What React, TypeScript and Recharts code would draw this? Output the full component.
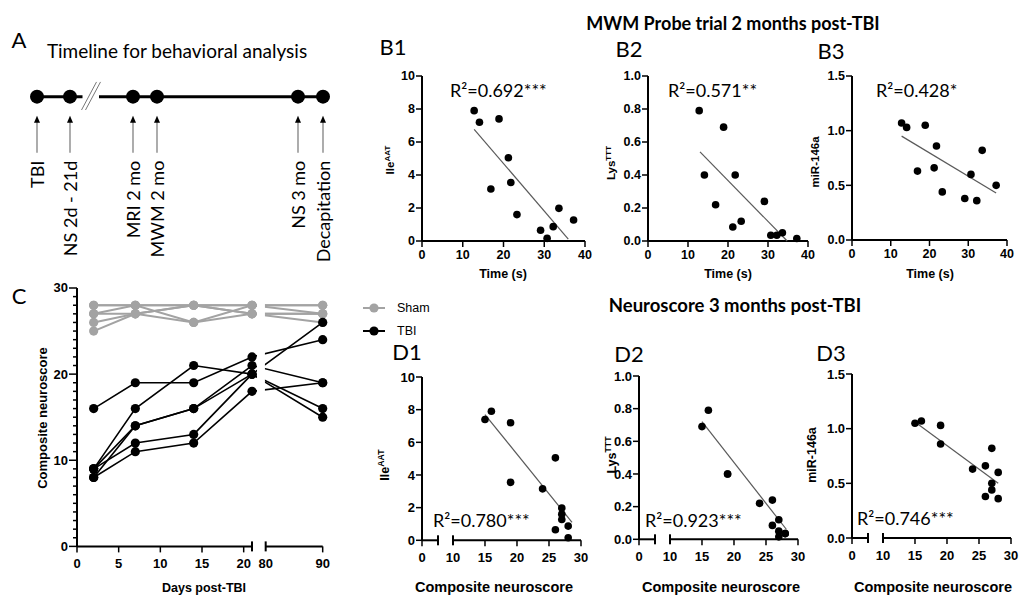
import React from "react";
import {
  LineChart,
  Line,
  ScatterChart,
  Scatter,
  XAxis,
  YAxis,
  ReferenceArea,
  ReferenceLine,
} from "recharts";

const SANS = '"Liberation Sans", Arial, Helvetica, sans-serif';
const CAL = 'Lato, "Open Sans", sans-serif';
const GRAY = "#a3a3a3";

// --- A: timeline
const timelineEvents = ["TBI", "NS 2d - 21d", "MRI 2 mo", "MWM 2 mo", "NS 3 mo", "Decapitation"];
const timelinePos = [37, 70, 133, 157, 298, 323];

// --- C: composite neuroscore per animal (days 2, 7, 14, 21, 90)
const days = [2, 7, 14, 21, 90];
const shamScores = [
  [28, 28, 28, 28, 28],
  [27, 27, 28, 27, 27],
  [27, 28, 26, 27, 26],
  [26, 27, 26, 28, 27],
  [25, 27, 28, 27, 27],
  [28, 28, 28, 28, 28],
];
const tbiScores = [
  [16, 19, 19, 22, 24],
  [9, 16, 21, 20, 26],
  [9, 14, 16, 21, 19],
  [8, 14, 16, 20, 16],
  [9, 12, 13, 20, 15],
  [8, 11, 12, 18, 19],
];
const cXTickDays = [0, 5, 10, 15, 20, 21, 80, 90];
const cCapDays = [21, 80];

// --- B / D: one value per animal
const probeTime = [12.8, 14.1, 16.9, 18.9, 21.2, 21.8, 23.3, 29.1, 30.7, 32.2, 33.6, 37.2];
const neuroscore3mo = [16, 19, 24, 15, 26, 19, 27, 26, 28, 28, 27, 27];
const ileAAT = [7.9, 7.2, 3.15, 7.4, 5.05, 3.55, 1.6, 0.65, 0.16, 0.87, 1.98, 1.27];
const lysTTT = [0.79, 0.4, 0.22, 0.69, 0.085, 0.4, 0.12, 0.24, 0.035, 0.035, 0.05, 0.015];
const mir146a = [1.07, 1.03, 0.63, 1.05, 0.66, 0.86, 0.44, 0.38, 0.6, 0.36, 0.82, 0.5];

// regression lines, end points
const fitB1 = [{ x: 12.8, y: 6.77 }, { x: 35.9, y: 0.12 }];
const fitB2 = [{ x: 13, y: 0.54 }, { x: 34.8, y: 0 }];
const fitB3 = [{ x: 12.8, y: 0.95 }, { x: 37.2, y: 0.43 }];
const fitD1 = [{ x: 15, y: 7.7 }, { x: 28.6, y: 1.1 }];
const fitD2 = [{ x: 15, y: 0.72 }, { x: 28.2, y: 0.06 }];
const fitD3 = [{ x: 15, y: 1.06 }, { x: 28, y: 0.5 }];

// broken axis in C: days 80-90 squeezed after day 21
const dayPos = (d: number) => (d <= 21 ? d : 22.64 + (d - 80) * 0.684);

// broken axis in D: "0" stub then 10..30
const D_LO = 5.16;
const D_CAP = 7.66;

function XTick(props: any) {
  const { x, y, payload, caps, fmt, fs, ly } = props;
  const v = payload.value as number;
  const isCap = caps.some((c: number) => Math.abs(c - v) < 1e-6);
  const label = fmt(v);
  return (
    <g>
      {isCap ? (
        <line x1={x} x2={x} y1={y - 5} y2={y + 5} stroke="#000" strokeWidth={2} />
      ) : (
        <line x1={x} x2={x} y1={y} y2={y + 6} stroke="#000" strokeWidth={1.5} />
      )}
      {label !== "" && (
        <text x={x} y={y + ly} textAnchor="middle" dominantBaseline="central" fill="#000"
          fontSize={fs} fontWeight={700} fontFamily={SANS}>{label}</text>
      )}
    </g>
  );
}

function Txt({ x, y, children, size, bold = false, family = CAL, start = false, rotate = 0 }: any) {
  return (
    <div
      style={{
        position: "absolute", left: x, top: y, whiteSpace: "nowrap", lineHeight: 1,
        fontSize: size, fontWeight: bold ? 700 : 400, fontFamily: family, color: "#000",
        transform: `translate(${start ? "0" : "-50%"}, -50%) rotate(${rotate}deg)`,
      }}
    >
      {children}
    </div>
  );
}

function Dot(p: any) {
  return <circle cx={p.cx} cy={p.cy} r={3.8} fill="#000" />;
}

function ScatterPanel(props: any) {
  const { px, py, pw, ph, xs, ys, fit, xDomain, xTicks, xFmt, caps, broken, yDomain, yTicks, yFmt, fs, ly } = props;
  const data = xs.map((x: number, i: number) => ({ x, y: ys[i] }));
  return (
    <div style={{ position: "absolute", left: px - 50, top: py - 10 }}>
      <ScatterChart width={pw + 60} height={ph + 40} margin={{ top: 10, right: 10, bottom: 0, left: 0 }}>
        <XAxis
          type="number" dataKey="x" domain={xDomain} ticks={xTicks} interval={0} height={30}
          axisLine={broken ? false : { stroke: "#000", strokeWidth: 2 }}
          tickLine={false} tickSize={0} tickMargin={0}
          tick={(t: any) => <XTick {...t} caps={caps} fmt={xFmt} fs={fs} ly={ly} />}
        />
        <YAxis
          type="number" dataKey="y" domain={yDomain} ticks={yTicks} interval={0} width={50}
          axisLine={{ stroke: "#000", strokeWidth: 2 }}
          tickLine={{ stroke: "#000", strokeWidth: 1.5 }} tickSize={6} tickMargin={1}
          tickFormatter={yFmt}
          tick={{ fill: "#000", fontSize: fs, fontWeight: 700, fontFamily: SANS }}
        />
        {broken && (
          <ReferenceLine segment={[{ x: xDomain[0], y: yDomain[0] }, { x: D_CAP, y: yDomain[0] }]}
            stroke="#000" strokeWidth={2} ifOverflow="visible" />
        )}
        {broken && (
          <ReferenceLine segment={[{ x: 10, y: yDomain[0] }, { x: xDomain[1], y: yDomain[0] }]}
            stroke="#000" strokeWidth={2} ifOverflow="visible" />
        )}
        <Scatter data={fit} line={{ stroke: "#5a5a5a", strokeWidth: 1.2 }} shape={() => <g />}
          isAnimationActive={false} />
        <Scatter data={data} shape={Dot} isAnimationActive={false} />
      </ScatterChart>
    </div>
  );
}

function TimelineDot(p: any) {
  const { cx, cy, payload } = p;
  if (cx == null || cy == null) return <g />;
  const ty = cy + 64;
  return (
    <g>
      <circle cx={cx} cy={cy} r={7} fill="#000" />
      <line x1={cx} x2={cx} y1={cy + 24} y2={cy + 56} stroke="#808080" strokeWidth={1.3} />
      <path d={`M${cx},${cy + 19} L${cx - 3},${cy + 26} L${cx + 3},${cy + 26} Z`} fill="#000" />
      <text x={cx} y={ty} transform={`rotate(-90 ${cx} ${ty})`} textAnchor="end" dominantBaseline="central"
        fontSize={18} fontFamily={CAL} fill="#000">{payload.label}</text>
    </g>
  );
}

function Timeline() {
  const data = timelineEvents.map((label, i) => ({ pos: timelinePos[i], on: 1, label }));
  return (
    <div style={{ position: "absolute", left: 0, top: 0 }}>
      <LineChart width={360} height={270} data={data} margin={{ top: 62, right: 0, bottom: 0, left: 0 }}>
        <XAxis type="number" dataKey="pos" domain={[0, 360]} hide />
        <YAxis type="number" domain={[0, 1.2]} hide />
        <Line dataKey="on" stroke="#000" strokeWidth={3} dot={TimelineDot} isAnimationActive={false} />
        <ReferenceArea x1={82.5} x2={99} y1={0.98} y2={1.02} fill="#fff" fillOpacity={1} stroke="none"
          ifOverflow="visible" zIndex={1500} />
        <ReferenceLine segment={[{ x: 81.5, y: 0.923 }, { x: 96.5, y: 1.085 }]} stroke="#777" strokeWidth={1}
          ifOverflow="visible" zIndex={1600} />
        <ReferenceLine segment={[{ x: 85.5, y: 0.923 }, { x: 100.5, y: 1.085 }]} stroke="#777" strokeWidth={1}
          ifOverflow="visible" zIndex={1600} />
      </LineChart>
    </div>
  );
}

function CYTick(p: any) {
  const { x, y, payload } = p;
  const v = payload.value as number;
  const major = v % 10 === 0;
  return (
    <g>
      <line x1={x - (major ? 8 : 4)} x2={x} y1={y} y2={y} stroke="#000" strokeWidth={1.5} />
      {major && (
        <text x={x - 9} y={y} textAnchor="end" dominantBaseline="central" fill="#000" fontSize={13}
          fontWeight={700} fontFamily={SANS}>{v}</text>
      )}
    </g>
  );
}

function NeuroscoreTime() {
  const rows = days.map((d, i) => {
    const row: any = { pos: dayPos(d) };
    shamScores.forEach((s, k) => (row[`s${k}`] = s[i]));
    tbiScores.forEach((s, k) => (row[`t${k}`] = s[i]));
    return row;
  });
  const px = 77, py = 288.3, pw = 245.7, ph = 258.4;
  const xTicks = cXTickDays.map(dayPos);
  const caps = cCapDays.map(dayPos);
  const fmt = (v: number) => {
    const d = cXTickDays[xTicks.findIndex((t) => Math.abs(t - v) < 1e-6)];
    return d === 21 ? "" : String(d);
  };
  const yTicks = Array.from({ length: 31 }, (_, i) => i);
  const dotOf = (color: string) => (p: any) =>
    p.cx == null ? <g /> : <circle cx={p.cx} cy={p.cy} r={4.6} fill={color} />;
  return (
    <div style={{ position: "absolute", left: px - 50, top: py - 10 }}>
      <LineChart width={pw + 60} height={ph + 40} data={rows} margin={{ top: 10, right: 10, bottom: 0, left: 0 }}>
        <XAxis type="number" dataKey="pos" domain={[0, dayPos(90)]} ticks={xTicks} interval={0} height={30}
          axisLine={false} tickLine={false} tickSize={0} tickMargin={0}
          tick={(t: any) => <XTick {...t} caps={caps} fmt={fmt} fs={13} ly={17} />} />
        <YAxis type="number" domain={[0, 30]} ticks={yTicks} interval={0} width={50}
          axisLine={{ stroke: "#000", strokeWidth: 2 }} tickLine={false} tickSize={0} tickMargin={0}
          tick={CYTick} />
        <ReferenceLine segment={[{ x: 0, y: 0 }, { x: dayPos(21), y: 0 }]} stroke="#000" strokeWidth={2}
          ifOverflow="visible" />
        <ReferenceLine segment={[{ x: dayPos(80), y: 0 }, { x: dayPos(90), y: 0 }]} stroke="#000" strokeWidth={2}
          ifOverflow="visible" />
        {shamScores.map((_, k) => (
          <Line key={`s${k}`} dataKey={`s${k}`} stroke={GRAY} strokeWidth={2} dot={dotOf(GRAY)}
            isAnimationActive={false} />
        ))}
        {tbiScores.map((_, k) => (
          <Line key={`t${k}`} dataKey={`t${k}`} stroke="#000" strokeWidth={1.6} dot={dotOf("#000")}
            isAnimationActive={false} />
        ))}
        <ReferenceArea x1={21.6} x2={22.55} y1={0} y2={30} fill="#fff" fillOpacity={1} stroke="none"
          zIndex={1500} />
      </LineChart>
    </div>
  );
}

const legendItems = [
  { name: "Sham", color: GRAY },
  { name: "TBI", color: "#000" },
];

function GroupLegend() {
  return (
    <div style={{ position: "absolute", left: 362, top: 296 }}>
      {legendItems.map((it) => (
        <div key={it.name} style={{ display: "flex", alignItems: "center", height: 23 }}>
          <svg width={24} height={12}>
            <line x1={1} x2={23} y1={6} y2={6} stroke={it.color} strokeWidth={2} />
            <circle cx={12} cy={6} r={4.6} fill={it.color} />
          </svg>
          <span style={{ marginLeft: 11, fontFamily: SANS, fontSize: 12.5 }}>{it.name}</span>
        </div>
      ))}
    </div>
  );
}

const f1 = (v: number) => v.toFixed(1);
const fInt = (v: number) => String(v);
const fD = (v: number) => (Math.abs(v - D_LO) < 1e-6 ? "0" : Math.abs(v - D_CAP) < 1e-6 ? "" : String(v));
const bX = { xDomain: [0, 40], xTicks: [0, 10, 20, 30, 40], xFmt: fInt, caps: [], broken: false, fs: 12.5, ly: 14 };
const dX = { xDomain: [D_LO, 30], xTicks: [D_LO, D_CAP, 10, 15, 20, 25, 30], xFmt: fD, caps: [D_CAP, 10], broken: true, fs: 13, ly: 17 };

export default function App() {
  const sup = (base: string, s: string) => (
    <span>{base}<sup style={{ fontSize: "0.7em" }}>{s}</sup></span>
  );
  return (
    <div style={{ position: "absolute", left: 0, top: 0, width: 1019, height: 596, background: "#fff", overflow: "hidden" }}>
      <Timeline />
      <Txt x={19} y={40} size={22}>A</Txt>
      <Txt x={177} y={50} size={19}>Timeline for behavioral analysis</Txt>

      <Txt x={733} y={23} size={18} bold>MWM Probe trial 2 months post-TBI</Txt>
      <Txt x={393} y={47} size={22}>B1</Txt>
      <Txt x={629} y={49} size={22}>B2</Txt>
      <Txt x={831} y={51} size={22}>B3</Txt>

      <ScatterPanel px={422} py={76} pw={163} ph={165} xs={probeTime} ys={ileAAT} fit={fitB1} {...bX}
        yDomain={[0, 10]} yTicks={[0, 2, 4, 6, 8, 10]} yFmt={fInt} />
      <ScatterPanel px={648} py={76} pw={160} ph={165} xs={probeTime} ys={lysTTT} fit={fitB2} {...bX}
        yDomain={[0, 1]} yTicks={[0, 0.2, 0.4, 0.6, 0.8, 1]} yFmt={f1} />
      <ScatterPanel px={852} py={76} pw={155} ph={164} xs={probeTime} ys={mir146a} fit={fitB3} {...bX}
        yDomain={[0, 1.5]} yTicks={[0, 0.5, 1, 1.5]} yFmt={f1} />
      <Txt x={450} y={90} size={18} start>R²=0.692***</Txt>
      <Txt x={668} y={90} size={18} start>R²=0.571**</Txt>
      <Txt x={876} y={90} size={18} start>R²=0.428*</Txt>
      <Txt x={390} y={160} size={11.5} bold family={SANS} rotate={-90}>{sup("Ile", "AAT")}</Txt>
      <Txt x={611} y={163} size={11.5} bold family={SANS} rotate={-90}>{sup("Lys", "TTT")}</Txt>
      <Txt x={816} y={162} size={11.5} bold family={SANS} rotate={-90}>miR-146a</Txt>
      <Txt x={503} y={274} size={12.5} bold family={SANS}>Time (s)</Txt>
      <Txt x={728} y={274} size={12.5} bold family={SANS}>Time (s)</Txt>
      <Txt x={930} y={274} size={12.5} bold family={SANS}>Time (s)</Txt>

      <Txt x={19} y={296} size={22}>C</Txt>
      <NeuroscoreTime />
      <Txt x={42} y={418} size={13} bold family={SANS} rotate={-90}>Composite neuroscore</Txt>
      <Txt x={204} y={588} size={12.5} bold family={SANS}>Days post-TBI</Txt>
      <GroupLegend />

      <Txt x={735} y={305} size={18.5} bold>Neuroscore 3 months post-TBI</Txt>
      <Txt x={407} y={352} size={22}>D1</Txt>
      <Txt x={629} y={354} size={22}>D2</Txt>
      <Txt x={831} y={353} size={22}>D3</Txt>

      <ScatterPanel px={422.3} py={376.7} pw={159} ph={163.3} xs={neuroscore3mo} ys={ileAAT} fit={fitD1} {...dX}
        yDomain={[0, 10]} yTicks={[0, 2, 4, 6, 8, 10]} yFmt={fInt} />
      <ScatterPanel px={639} py={376} pw={159} ph={163.3} xs={neuroscore3mo} ys={lysTTT} fit={fitD2} {...dX}
        yDomain={[0, 1]} yTicks={[0, 0.2, 0.4, 0.6, 0.8, 1]} yFmt={f1} />
      <ScatterPanel px={852.3} py={374.3} pw={159} ph={164} xs={neuroscore3mo} ys={mir146a} fit={fitD3} {...dX}
        yDomain={[0, 1.5]} yTicks={[0, 0.5, 1, 1.5]} yFmt={f1} />
      <Txt x={433} y={520} size={18} start>R²=0.780***</Txt>
      <Txt x={645} y={520} size={18} start>R²=0.923***</Txt>
      <Txt x={857} y={518} size={18} start>R²=0.746***</Txt>
      <Txt x={384} y={465} size={12.5} bold family={SANS} rotate={-90}>{sup("Ile", "AAT")}</Txt>
      <Txt x={611} y={455} size={12.5} bold family={SANS} rotate={-90}>{sup("Lys", "TTT")}</Txt>
      <Txt x={812} y={455} size={12.5} bold family={SANS} rotate={-90}>miR-146a</Txt>
      <Txt x={494} y={587} size={14.5} bold family={SANS}>Composite neuroscore</Txt>
      <Txt x={721} y={587} size={14.5} bold family={SANS}>Composite neuroscore</Txt>
      <Txt x={933} y={587} size={14.5} bold family={SANS}>Composite neuroscore</Txt>
    </div>
  );
}
